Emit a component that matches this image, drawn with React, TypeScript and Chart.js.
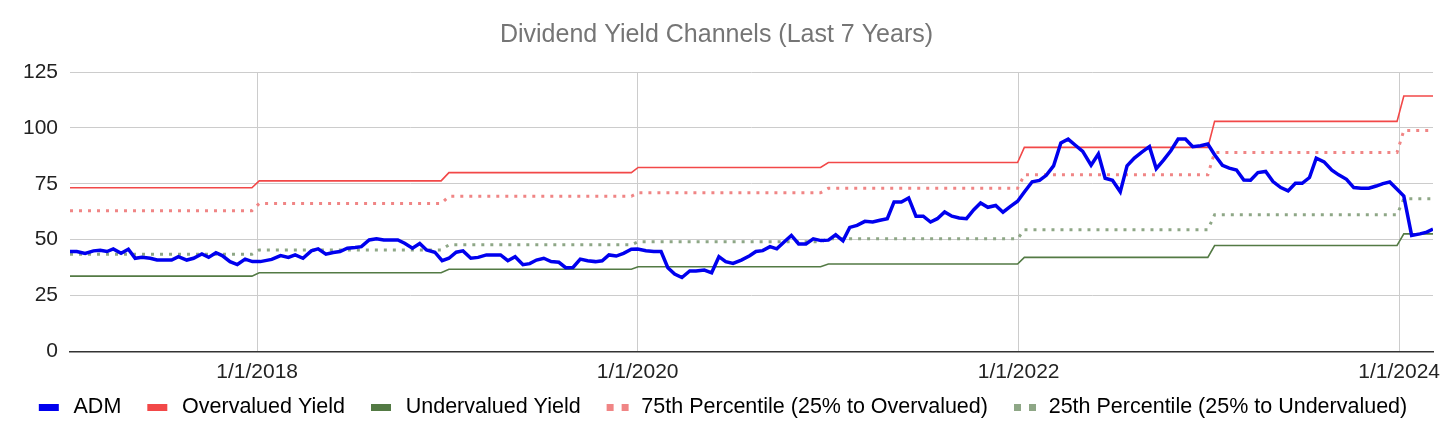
import { useEffect, useRef } from 'react';
import Chart from 'chart.js/auto';

// ADM dividend yield readings (biweekly-ish)
const admDates = [
  '2017-01-07', '2017-01-20', '2017-02-05', '2017-02-21', '2017-03-06', '2017-03-19', '2017-03-31', '2017-04-15',
  '2017-04-29', '2017-05-12', '2017-05-25', '2017-06-10', '2017-06-23', '2017-07-21', '2017-08-03', '2017-08-19',
  '2017-09-01', '2017-09-17', '2017-09-30', '2017-10-14', '2017-10-26', '2017-11-10', '2017-11-24', '2017-12-09',
  '2017-12-23', '2018-01-07', '2018-01-29', '2018-02-15', '2018-03-02', '2018-03-15', '2018-03-30', '2018-04-15',
  '2018-04-28', '2018-05-13', '2018-05-27', '2018-06-09', '2018-06-23', '2018-07-08', '2018-07-20', '2018-08-04',
  '2018-08-18', '2018-09-01', '2018-09-16', '2018-09-28', '2018-10-11', '2018-10-26', '2018-11-09', '2018-11-22',
  '2018-12-08', '2018-12-22', '2019-01-04', '2019-01-18', '2019-01-31', '2019-02-15', '2019-03-01', '2019-03-17',
  '2019-04-13', '2019-04-27', '2019-05-11', '2019-05-26', '2019-06-08', '2019-06-21', '2019-07-05', '2019-07-19',
  '2019-08-03', '2019-08-16', '2019-08-30', '2019-09-13', '2019-09-27', '2019-10-12', '2019-10-25', '2019-11-07',
  '2019-11-21', '2019-12-05', '2019-12-20', '2020-01-01', '2020-01-17', '2020-02-01', '2020-02-15', '2020-02-28',
  '2020-03-12', '2020-03-26', '2020-04-10', '2020-04-22', '2020-05-08', '2020-05-22', '2020-06-05', '2020-06-18',
  '2020-07-02', '2020-07-18', '2020-08-03', '2020-08-15', '2020-08-28', '2020-09-11', '2020-09-24', '2020-10-09',
  '2020-10-22', '2020-11-05', '2020-11-19', '2020-12-03', '2020-12-18', '2021-01-01', '2021-01-15', '2021-01-29',
  '2021-02-11', '2021-02-25', '2021-03-12', '2021-03-27', '2021-04-10', '2021-04-24', '2021-05-07', '2021-05-21',
  '2021-06-04', '2021-06-18', '2021-07-02', '2021-07-16', '2021-07-29', '2021-08-12', '2021-08-26', '2021-09-09',
  '2021-09-23', '2021-10-07', '2021-10-20', '2021-11-03', '2021-11-18', '2021-12-02', '2021-12-17', '2021-12-30',
  '2022-01-12', '2022-01-27', '2022-02-10', '2022-02-23', '2022-03-09', '2022-03-23', '2022-04-06', '2022-04-21',
  '2022-05-04', '2022-05-20', '2022-06-03', '2022-06-16', '2022-06-30', '2022-07-15', '2022-07-28', '2022-08-11',
  '2022-08-26', '2022-09-09', '2022-09-22', '2022-10-06', '2022-10-20', '2022-11-03', '2022-11-17', '2022-12-01',
  '2022-12-16', '2022-12-30', '2023-01-12', '2023-01-27', '2023-02-09', '2023-02-23', '2023-03-09', '2023-03-22',
  '2023-04-05', '2023-04-20', '2023-05-04', '2023-05-19', '2023-06-02', '2023-06-16', '2023-06-29', '2023-07-13',
  '2023-07-26', '2023-08-10', '2023-08-25', '2023-09-07', '2023-09-22', '2023-10-06', '2023-10-20', '2023-11-04',
  '2023-11-18', '2023-12-01', '2023-12-14', '2023-12-30', '2024-01-10', '2024-01-25', '2024-02-10', '2024-02-23',
  '2024-03-06',
];
const admValues = [
  44.7, 44.7, 43.9, 45.0, 45.3, 44.7, 45.9, 43.9,
  45.7, 41.7, 42.1, 41.7, 40.9, 40.9, 42.4, 40.9,
  41.7, 43.6, 42.1, 44.2, 42.9, 40.2, 38.9, 41.3,
  40.2, 40.2, 41.2, 42.9, 42.1, 43.2, 41.7, 45.0,
  45.9, 43.5, 44.3, 44.7, 46.2, 46.5, 46.9, 49.9,
  50.4, 49.9, 49.9, 49.9, 48.4, 46.2, 48.3, 45.4,
  44.4, 40.6, 41.7, 44.4, 45.0, 41.7, 42.1, 43.2,
  43.2, 40.6, 42.4, 38.8, 39.3, 40.9, 41.7, 40.2,
  39.9, 37.5, 37.6, 41.3, 40.6, 40.2, 40.6, 43.2,
  42.7, 43.9, 45.7, 45.8, 45.1, 44.7, 44.7, 37.5,
  34.6, 33.1, 36.0, 36.0, 36.4, 35.2, 42.4, 40.2,
  39.4, 40.9, 42.8, 44.7, 45.1, 46.9, 45.9, 49.2,
  51.9, 48.1, 48.1, 50.4, 49.6, 49.8, 52.2, 49.5,
  55.5, 56.4, 58.2, 57.9, 58.7, 59.4, 66.9, 66.9,
  68.7, 60.5, 60.5, 57.9, 59.4, 62.4, 60.5, 59.7,
  59.4, 63.4, 66.4, 64.5, 65.3, 62.3, 65.0, 67.2,
  71.3, 75.9, 76.5, 78.8, 83.0, 93.3, 95.0, 92.0,
  89.5, 83.3, 88.3, 77.5, 76.6, 71.4, 83.0, 86.5,
  89.3, 91.6, 81.8, 85.6, 89.8, 95.0, 95.0, 91.6,
  92.0, 92.8, 88.0, 83.3, 82.0, 81.2, 76.7, 76.6,
  80.0, 80.5, 76.0, 73.3, 71.8, 75.2, 75.2, 77.8,
  86.5, 84.8, 81.1, 79.0, 77.0, 73.3, 73.0, 73.0,
  74.0, 75.1, 75.8, 72.1, 69.5, 51.9, 52.6, 53.4,
  54.7,
];

// yield channels change once a year (dividend increase)
const channelDates = [
  '2017-01-07', '2017-12-22', '2018-01-05', '2018-12-20', '2019-01-04', '2019-12-20', '2020-01-02', '2020-12-17',
  '2021-01-01', '2021-12-30', '2022-01-12', '2022-12-30', '2023-01-12', '2023-12-28', '2024-01-10', '2024-03-06',
];
const overvaluedValues = [73.2, 73.2, 76.3, 76.3, 80.0, 80.0, 82.3, 82.3, 84.5, 84.5, 91.3, 91.3, 102.9, 102.9, 114.3, 114.3];
const undervaluedValues = [33.7, 33.7, 35.2, 35.2, 36.8, 36.8, 37.9, 37.9, 39.1, 39.1, 42.1, 42.1, 47.4, 47.4, 52.6, 52.6];
const p75Values = [63.0, 63.0, 66.2, 66.2, 69.4, 69.4, 71.0, 71.0, 73.0, 73.0, 79.0, 79.0, 89.0, 89.0, 98.8, 98.8];
const p25Values = [43.5, 43.5, 45.4, 45.4, 47.7, 47.7, 49.1, 49.1, 50.4, 50.4, 54.5, 54.5, 61.2, 61.2, 68.3, 68.3];

const xTickDates = ['2018-01-01', '2020-01-01', '2022-01-01', '2024-01-01'];

const FONT = '"Liberation Sans", Arial, Helvetica, sans-serif';

const toPoints = (dates: string[], values: number[]) =>
  dates.map((d, i) => ({ x: Date.parse(d), y: values[i] }));

// small legend swatch: solid bar or two dots, with left margin for spacing
function makeMarker(color: string, dotted: boolean) {
  const c = document.createElement('canvas');
  c.width = 37;
  c.height = 7;
  const ctx = c.getContext('2d');
  if (ctx) {
    ctx.fillStyle = color;
    if (dotted) {
      ctx.fillRect(13, 0, 7, 7);
      ctx.fillRect(28, 0, 7, 7);
    } else {
      ctx.fillRect(13, 0, 20, 7);
    }
  }
  return c;
}

export default function App() {
  const canvasRef = useRef<HTMLCanvasElement | null>(null);

  useEffect(() => {
    document.body.style.margin = '0';
    const canvas = canvasRef.current;
    if (!canvas) return;

    const series = [
      { label: 'ADM', color: '#0000ee', width: 3.5, dash: [], dotted: false, data: toPoints(admDates, admValues) },
      { label: 'Overvalued Yield', color: '#f24848', width: 1.6, dash: [], dotted: false, data: toPoints(channelDates, overvaluedValues) },
      { label: 'Undervalued Yield', color: '#537a44', width: 1.6, dash: [], dotted: false, data: toPoints(channelDates, undervaluedValues) },
      { label: '75th Percentile (25% to Overvalued)', color: '#f08585', width: 3, dash: [3, 6], dotted: true, data: toPoints(channelDates, p75Values) },
      { label: '25th Percentile (25% to Undervalued)', color: '#8ea786', width: 3, dash: [3, 6], dotted: true, data: toPoints(channelDates, p25Values) },
    ];
    const markers = series.map(s => makeMarker(s.color, s.dotted));

    const chart = new Chart(canvas, {
      type: 'line',
      data: {
        datasets: series.map(s => ({
          label: s.label,
          data: s.data,
          borderColor: s.color,
          backgroundColor: s.color,
          borderWidth: s.width,
          borderDash: s.dash,
          borderCapStyle: 'butt' as const,
          pointRadius: 0,
          tension: 0,
          fill: false,
        })),
      },
      options: {
        responsive: false,
        animation: false,
        layout: { padding: { left: 0, right: 23, top: 0, bottom: 12 } },
        plugins: {
          title: {
            display: true,
            text: 'Dividend Yield Channels (Last 7 Years)',
            color: '#757575',
            font: { family: FONT, size: 25, weight: 'normal' },
            padding: { top: 20, bottom: 22 },
          },
          legend: {
            position: 'bottom',
            labels: {
              usePointStyle: true,
              pointStyleWidth: 37,
              boxHeight: 7,
              padding: 13,
              color: '#222',
              font: { family: FONT, size: 21.5 },
              generateLabels: () =>
                series.map((s, i) => ({
                  text: s.label,
                  pointStyle: markers[i],
                  fillStyle: s.color,
                  strokeStyle: s.color,
                  lineWidth: 0,
                  hidden: false,
                  datasetIndex: i,
                })),
            },
          },
          tooltip: { enabled: false },
        },
        scales: {
          x: {
            type: 'linear',
            min: Date.parse(admDates[0]),
            max: Date.parse(admDates[admDates.length - 1]),
            afterBuildTicks: (axis: any) => {
              axis.ticks = xTickDates.map(d => ({ value: Date.parse(d) }));
            },
            afterFit: (axis: any) => {
              axis.height = 32;
            },
            ticks: {
              autoSkip: false,
              maxRotation: 0,
              padding: 8,
              color: '#222',
              font: { family: FONT, size: 21 },
              callback: (v: any) => {
                const d = new Date(Number(v));
                return `${d.getUTCMonth() + 1}/${d.getUTCDate()}/${d.getUTCFullYear()}`;
              },
            },
            grid: { color: '#cccccc', lineWidth: 1, drawTicks: false },
            border: { color: '#333333', width: 1.5 },
          },
          y: {
            min: 0,
            max: 125,
            afterFit: (axis: any) => {
              axis.width = 70;
            },
            ticks: {
              stepSize: 25,
              padding: 12,
              color: '#222',
              font: { family: FONT, size: 21 },
            },
            grid: { color: '#cccccc', lineWidth: 1, drawTicks: false },
            border: { display: false },
          },
        },
      },
    });

    return () => {
      chart.destroy();
    };
  }, []);

  return (
    <div style={{ width: 1456, height: 440, background: '#fff' }}>
      <canvas ref={canvasRef} width={1456} height={440} />
    </div>
  );
}
